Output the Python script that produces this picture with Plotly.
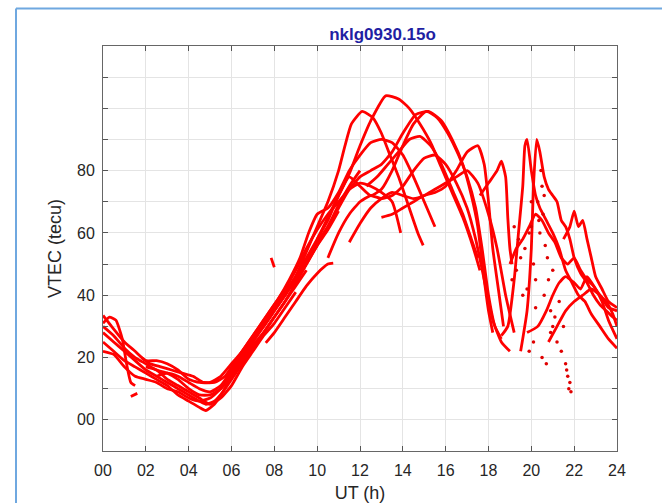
import plotly.graph_objects as go

# ---- axis ticks ----
x_tick_vals = list(range(0, 25, 2))
x_tick_text = ["00", "02", "04", "06", "08", "10", "12", "14", "16", "18", "20", "22", "24"]
y_tick_vals = list(range(0, 111, 10))
y_tick_text = ["00", "", "20", "", "40", "", "60", "", "80", "", "", ""]

# ---- satellite arcs (UT hours, VTEC tecu) ----
arc01_ut = [0, 0.4, 1, 1.5, 2, 2.5, 3, 3.5, 4, 4.5, 5, 5.5, 6, 6.5, 7, 7.5, 8, 8.5, 9, 9.5, 10]
arc01_tec = [33.5, 30, 25, 22, 19, 19, 18, 16, 13, 12, 12, 14, 18, 22, 26, 30, 35, 40, 46, 51, 56]

arc02_ut = [0, 0.3, 0.6, 0.9, 1.1, 1.3, 1.5]
arc02_tec = [31, 33, 32, 26, 18, 12, 11]

arc03_ut = [0, 0.5, 1, 1.5, 2, 2.5, 3, 3.5, 4, 4.5, 4.8, 5.2, 5.6, 6, 6.5, 7, 7.5, 8, 8.5, 9, 9.5, 10, 10.5, 11]
arc03_tec = [28, 25, 22, 19, 16, 14, 12, 10, 8, 6, 5, 6, 9, 13, 18, 23, 28, 33, 38, 44, 50, 56, 61, 67]

arc04_ut = [0, 0.5, 1, 1.5, 2, 2.5, 3, 3.5, 4, 4.5, 4.8, 5.2, 5.6, 6, 6.5, 7, 7.5, 8, 8.5, 9, 9.5, 10, 10.5, 11, 11.5, 12]
arc04_tec = [25, 22, 19, 17, 15, 13, 11, 8, 6, 4, 3, 5, 9, 14, 20, 25, 30, 35, 40, 45, 51, 57, 62, 69, 75, 80]

arc05_ut = [0, 0.5, 1, 1.5, 2, 2.5, 3, 3.5, 4, 4.5, 5, 5.5, 6, 6.5, 7, 7.5, 8, 8.5, 9, 9.5, 10, 10.5, 11, 11.5,
            12, 12.5, 13.2, 13.8, 14.3, 14.8, 15.3, 15.8, 16.3, 16.8, 17.3, 17.6]
arc05_tec = [22, 21, 17, 14, 13, 12, 10, 9, 7, 6, 7, 10, 15, 21, 26, 31, 36, 41, 46, 52, 58, 65, 72, 79,
             88, 96, 104, 103, 100, 95, 89, 81, 73, 65, 55, 48]

arc06_ut = [1.3, 1.6]
arc06_tec = [7.5, 8.5]

arc07_ut = [1.8, 2.2, 2.7, 3.2, 3.7, 4.2, 4.7, 5.2, 5.7, 6.2, 6.7, 7.2, 7.7, 8.2, 8.7, 9.2, 9.6, 10, 10.5, 11,
            11.5, 12, 12.5, 13, 13.5, 14, 14.5, 15, 15.5]
arc07_tec = [20, 18, 17, 16, 15, 14, 12, 12, 14, 19, 24, 29, 34, 39, 45, 52, 60, 66, 68, 73,
             80, 85, 89, 90, 89, 85, 78, 70, 62]

arc08_ut = [2.5, 3, 3.5, 4, 4.5, 5, 5.5, 6, 6.5, 7, 7.5, 8, 8.5, 9, 9.5, 10, 10.5, 11, 11.5, 12, 12.5, 13, 13.5, 13.9]
arc08_tec = [14, 15, 14, 12, 10, 9, 11, 16, 22, 27, 32, 37, 42, 48, 55, 61, 66, 70, 74, 76, 75, 73, 70, 60]

arc09_ut = [7.85, 8.0]
arc09_tec = [52, 49]

arc10_ut = [7.6, 8, 8.5, 9, 9.5, 10, 10.5, 10.75]
arc10_tec = [24.7, 28, 33, 38, 43, 47, 50, 50.3]

arc11_ut = [8.5, 9, 9.5, 10, 10.5, 11, 11.3, 11.6, 12.1, 12.6, 13, 13.4, 13.8, 14.3, 14.7, 14.95]
arc11_tec = [40, 46, 54, 62, 70, 80, 88, 95, 99, 97, 92, 85, 78, 68, 60, 56]

arc12_ut = [9, 9.5, 10, 10.5, 11, 11.5, 12, 12.5, 13, 13.5, 14, 14.6, 15.2, 15.8, 16.3, 16.8, 17.2, 17.5, 17.8, 18, 18.2]
arc12_tec = [44, 50, 56, 62, 68, 74, 78, 80, 82, 86, 92, 98, 99, 96, 90, 82, 72, 62, 45, 35, 28]

arc13_ut = [10, 10.5, 11, 11.5, 12, 12.5, 13, 13.5, 14, 14.5, 15.1, 15.6, 16.1, 16.6, 17, 17.4, 17.7, 18, 18.3, 18.6]
arc13_tec = [58, 64, 72, 78, 75, 72, 74, 80, 88, 95, 99, 97, 92, 85, 78, 68, 55, 40, 30, 26]

arc14_ut = [10.5, 11, 11.5, 12, 12.5, 13, 13.5, 14, 14.5, 15, 15.5, 16, 16.5, 17, 17.4, 17.8, 18.2, 18.6, 19]
arc14_tec = [52, 60, 66, 70, 72, 71, 72, 75, 80, 84, 85, 82, 76, 68, 58, 45, 32, 25, 22]

arc15_ut = [11.5, 12, 12.5, 13, 13.5, 14, 14.5, 15, 15.5, 16, 16.5, 17, 17.5, 18, 18.4, 18.8, 19.2]
arc15_tec = [57, 63, 68, 71, 73, 72, 71, 72, 74, 76, 78, 80, 76, 66, 55, 40, 28]

arc16_ut = [12.3, 12.8, 13.3, 13.8, 14.3, 14.8, 15.3, 15.8, 16.3, 16.8, 17.2, 17.5]
arc16_tec = [75, 78, 82, 86, 90, 91, 88, 82, 74, 66, 58, 52]

arc17_ut = [13, 13.5, 14, 14.5, 15, 15.5, 16, 16.5, 17, 17.5, 17.8, 18, 18.2, 18.5, 18.7]
arc17_tec = [65, 66, 68, 70, 72, 73, 75, 80, 86, 88, 82, 70, 55, 40, 30]

arc18_ut = [17.6, 18, 18.4, 18.6, 18.8, 18.9, 19.0, 19.1]
arc18_tec = [72, 76, 80, 83, 78, 65, 55, 50]

arc19_ut = [18.6, 18.9, 19.2, 19.4, 19.6, 19.7, 19.8, 20, 20.2, 20.4, 20.7, 21, 21.3, 21.6, 21.9, 22.2, 22.5,
            22.8, 23.2, 23.6, 24]
arc19_tec = [27, 30, 45, 60, 75, 88, 90, 80, 72, 68, 64, 60, 55, 48, 44, 40, 38, 34, 30, 26, 23]

arc20_ut = [19.5, 19.8, 20, 20.1, 20.25, 20.4, 20.6, 20.8, 21, 21.2, 21.4, 21.6, 21.8, 22, 22.3, 22.6, 22.9,
            23.2, 23.5, 23.8, 24]
arc20_tec = [22, 35, 55, 75, 90, 86, 78, 74, 72, 70, 64, 62, 58, 52, 47, 44, 40, 37, 35, 33, 32]

arc21_ut = [21.5, 21.8, 22, 22.2, 22.4, 22.6, 22.8, 23, 23.3, 23.6, 24]
arc21_tec = [58, 62, 67, 62, 64, 58, 52, 46, 42, 38, 36]

arc22_ut = [19.8, 20.3, 20.7, 21, 21.3, 21.6, 22, 22.3, 22.6, 23, 23.3, 23.6, 24]
arc22_tec = [28, 30, 35, 40, 44, 46, 44, 42, 46, 42, 38, 32, 26]

arc23_ut = [20.8, 21.2, 21.6, 22, 22.4, 22.8, 23.2, 23.6, 24]
arc23_tec = [25, 30, 35, 38, 40, 42, 40, 36, 35]

arc24_ut = [0, 0.5, 1, 1.5, 2, 2.5, 3, 3.5, 4, 4.5, 5, 5.5, 6, 6.5, 7, 7.5, 8, 8.5, 9, 9.5]
arc24_tec = [30, 27, 23, 20, 18, 16, 15, 13, 10, 8, 8, 10, 14, 19, 24, 28, 33, 38, 43, 48]

arc25_ut = [2.0, 2.5, 3.0, 3.5, 4.0, 4.5, 5.0, 5.5, 6.0, 6.5, 7.0, 7.5, 8.0, 8.5, 9.0]
arc25_tec = [17, 16, 13, 11, 9, 7, 5, 7, 11, 17, 22, 27, 31, 36, 41]

arc26_ut = [19.0, 19.3, 19.6, 19.9, 20.2, 20.5, 20.8, 21.1, 21.4, 21.7, 22.0, 22.3, 22.6, 22.9, 23.2, 23.5, 23.8, 24]
arc26_tec = [50, 55, 58, 62, 66, 64, 60, 57, 52, 50, 52, 48, 45, 43, 40, 38, 34, 30]

# scattered single epochs (dots) in the evening
dots_ut = [19.1, 19.3, 19.5, 19.7, 19.9, 20.0, 19.6, 19.8, 20.1, 20.3, 20.5, 20.6, 20.4, 20.2, 20.6, 20.9,
           21.0, 21.2, 21.4, 21.6, 21.7, 21.8, 21.75, 20.8, 21.0, 20.7, 20.5, 19.9, 20.1, 20.45, 20.55,
           20.35, 20.65, 20.75, 20.9, 21.1, 21.3, 21.5, 19.4, 19.2, 20.2, 20.0, 21.65, 21.85]
dots_tec = [45, 48, 52, 55, 60, 62, 40, 42, 50, 70, 75, 72, 60, 45, 40, 35,
            30, 25, 22, 18, 14, 12, 10, 45, 48, 18, 20, 22, 25, 80, 66,
            64, 56, 52, 28, 33, 38, 30, 58, 62, 36, 70, 16, 9]

arcs = [
    (arc01_ut, arc01_tec), (arc02_ut, arc02_tec), (arc03_ut, arc03_tec), (arc04_ut, arc04_tec),
    (arc05_ut, arc05_tec), (arc06_ut, arc06_tec), (arc07_ut, arc07_tec), (arc08_ut, arc08_tec),
    (arc09_ut, arc09_tec), (arc10_ut, arc10_tec), (arc11_ut, arc11_tec), (arc12_ut, arc12_tec),
    (arc13_ut, arc13_tec), (arc14_ut, arc14_tec), (arc15_ut, arc15_tec), (arc16_ut, arc16_tec),
    (arc17_ut, arc17_tec), (arc18_ut, arc18_tec), (arc19_ut, arc19_tec), (arc20_ut, arc20_tec),
    (arc21_ut, arc21_tec), (arc22_ut, arc22_tec), (arc23_ut, arc23_tec), (arc24_ut, arc24_tec),
    (arc25_ut, arc25_tec), (arc26_ut, arc26_tec),
]

RED = "#ff0000"
fig = go.Figure()
for ut, tec in arcs:
    fig.add_trace(go.Scatter(x=ut, y=tec, mode="lines",
                             line=dict(color=RED, width=2.8, shape="spline", smoothing=0.5),
                             showlegend=False, hoverinfo="skip"))
fig.add_trace(go.Scatter(x=dots_ut, y=dots_tec, mode="markers", marker=dict(color="#e00000", size=3.5),
                         showlegend=False, hoverinfo="skip"))

FONT = "Liberation Sans, Arial, sans-serif"
TXT = "#262626"
fig.update_layout(
    width=662, height=503,
    margin=dict(l=103, r=45, t=46, b=52, pad=0, autoexpand=False),
    paper_bgcolor="white", plot_bgcolor="white",
    font=dict(family=FONT, color=TXT),
    title=dict(text="<b>nklg0930.15o</b>", x=360 / 662, xref="paper", xanchor="center",
               y=1 - 34 / 503, yanchor="middle",
               font=dict(family=FONT, size=17, color="#1f1fa3")),
    xaxis=dict(range=[0, 24], tickmode="array", tickvals=x_tick_vals, ticktext=x_tick_text,
               ticks="inside", ticklen=5, tickcolor="#555", tickwidth=1, automargin=False,
               showline=True, linecolor="#666", linewidth=1, mirror="ticks",
               showgrid=True, gridcolor="#e4e4e4", gridwidth=1, zeroline=False,
               tickfont=dict(size=16, color=TXT), ticklabelstandoff=5,
               title=dict(text="UT (h)", font=dict(size=18, color=TXT), standoff=9)),
    yaxis=dict(range=[-10, 120], tickmode="array", tickvals=y_tick_vals, ticktext=y_tick_text,
               ticks="inside", ticklen=5, tickcolor="#555", tickwidth=1, automargin=False,
               showline=True, linecolor="#666", linewidth=1, mirror="ticks",
               showgrid=True, gridcolor="#e4e4e4", gridwidth=1, zeroline=False,
               tickfont=dict(size=16, color=TXT), ticklabelstandoff=4,
               title=dict(text="VTEC (tecu)", font=dict(size=18, color=TXT), standoff=10)),
    shapes=[
        dict(type="line", xref="paper", yref="paper",
             x0=-87 / 514, x1=(662 - 103) / 514 + 0.01, y0=(451 - 8.5) / 405, y1=(451 - 8.5) / 405,
             line=dict(color="#6fa8e0", width=2)),
        dict(type="line", xref="paper", yref="paper",
             x0=-87 / 514, x1=-87 / 514, y0=(451 - 8.5) / 405, y1=-60 / 405,
             line=dict(color="#6fa8e0", width=2)),
    ],
)

fig.write_html("out.html", config={"displayModeBar": False},
               post_script="document.body.style.margin='0';document.body.style.overflow='hidden';")
